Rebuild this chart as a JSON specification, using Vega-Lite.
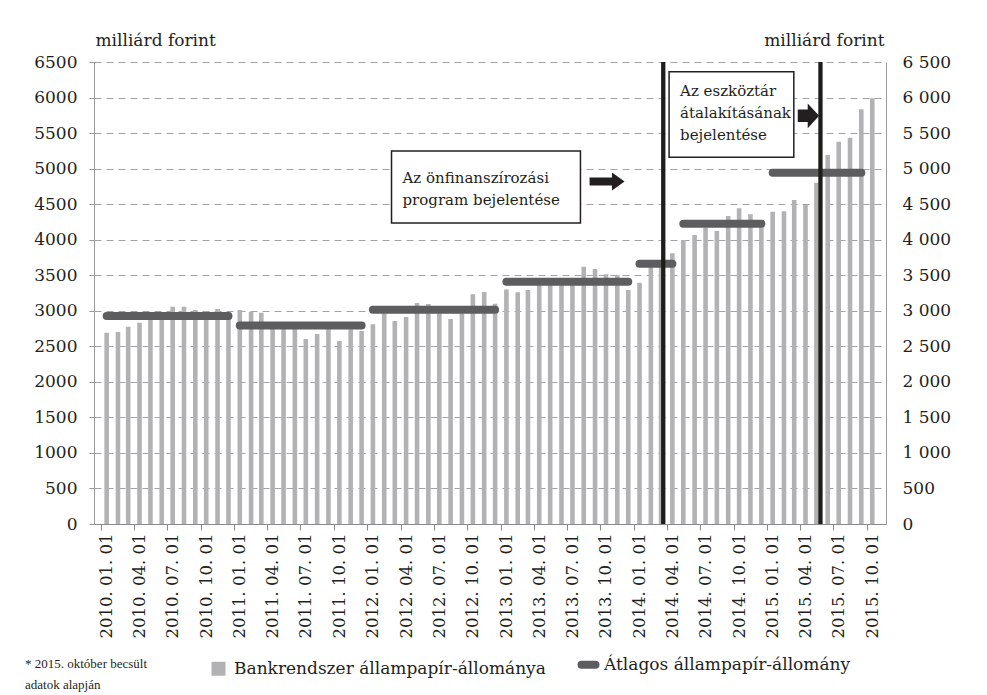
{
  "$schema": "https://vega.github.io/schema/vega-lite/v6.json",
  "width": 792,
  "height": 462,
  "autosize": {"type": "none"},
  "padding": {"left": 94, "top": 62, "right": 101, "bottom": 171},
  "background": "white",
  "config": {"view": {"stroke": null}, "font": "DejaVu Serif"},
  "datasets": {
    "bars": [
      {"date": "2010-01-01", "value": 2692}, {"date": "2010-02-01", "value": 2701}, {"date": "2010-03-01", "value": 2776}, {"date": "2010-04-01", "value": 2832}, {"date": "2010-05-01", "value": 2900}, {"date": "2010-06-01", "value": 2960},
      {"date": "2010-07-01", "value": 3057}, {"date": "2010-08-01", "value": 3057}, {"date": "2010-09-01", "value": 3011}, {"date": "2010-10-01", "value": 2990}, {"date": "2010-11-01", "value": 3025}, {"date": "2010-12-01", "value": 2980},
      {"date": "2011-01-01", "value": 3011}, {"date": "2011-02-01", "value": 2987}, {"date": "2011-03-01", "value": 2973}, {"date": "2011-04-01", "value": 2820}, {"date": "2011-05-01", "value": 2830}, {"date": "2011-06-01", "value": 2800},
      {"date": "2011-07-01", "value": 2603}, {"date": "2011-08-01", "value": 2673}, {"date": "2011-09-01", "value": 2760}, {"date": "2011-10-01", "value": 2575}, {"date": "2011-11-01", "value": 2740}, {"date": "2011-12-01", "value": 2715},
      {"date": "2012-01-01", "value": 2809}, {"date": "2012-02-01", "value": 2964}, {"date": "2012-03-01", "value": 2856}, {"date": "2012-04-01", "value": 2912}, {"date": "2012-05-01", "value": 3109}, {"date": "2012-06-01", "value": 3095},
      {"date": "2012-07-01", "value": 3000}, {"date": "2012-08-01", "value": 2884}, {"date": "2012-09-01", "value": 2964}, {"date": "2012-10-01", "value": 3231}, {"date": "2012-11-01", "value": 3264}, {"date": "2012-12-01", "value": 3099},
      {"date": "2013-01-01", "value": 3301}, {"date": "2013-02-01", "value": 3259}, {"date": "2013-03-01", "value": 3292}, {"date": "2013-04-01", "value": 3380}, {"date": "2013-05-01", "value": 3400}, {"date": "2013-06-01", "value": 3390},
      {"date": "2013-07-01", "value": 3420}, {"date": "2013-08-01", "value": 3620}, {"date": "2013-09-01", "value": 3588}, {"date": "2013-10-01", "value": 3513}, {"date": "2013-11-01", "value": 3500}, {"date": "2013-12-01", "value": 3292},
      {"date": "2014-01-01", "value": 3395}, {"date": "2014-02-01", "value": 3690}, {"date": "2014-03-01", "value": 3710}, {"date": "2014-04-01", "value": 3808}, {"date": "2014-05-01", "value": 3995}, {"date": "2014-06-01", "value": 4066},
      {"date": "2014-07-01", "value": 4169}, {"date": "2014-08-01", "value": 4122}, {"date": "2014-09-01", "value": 4333}, {"date": "2014-10-01", "value": 4441}, {"date": "2014-11-01", "value": 4357}, {"date": "2014-12-01", "value": 4190},
      {"date": "2015-01-01", "value": 4394}, {"date": "2015-02-01", "value": 4399}, {"date": "2015-03-01", "value": 4558}, {"date": "2015-04-01", "value": 4488}, {"date": "2015-05-01", "value": 4802}, {"date": "2015-06-01", "value": 5191},
      {"date": "2015-07-01", "value": 5379}, {"date": "2015-08-01", "value": 5435}, {"date": "2015-09-01", "value": 5834}, {"date": "2015-10-01", "value": 5989}
    ],
    "avgs": [
      {"date": "2010-01-01", "end": "2010-12-01", "avg": 2926},
      {"date": "2011-01-01", "end": "2011-12-01", "avg": 2793},
      {"date": "2012-01-01", "end": "2012-12-01", "avg": 3015},
      {"date": "2013-01-01", "end": "2013-12-01", "avg": 3407},
      {"date": "2014-01-01", "end": "2014-04-01", "avg": 3662},
      {"date": "2014-05-01", "end": "2014-12-01", "avg": 4225},
      {"date": "2015-01-01", "end": "2015-09-01", "avg": 4943}
    ],
    "events": [{"date": "2014-03-07"}, {"date": "2015-05-12"}],
    "boxes": [
      {"date": "2012-02-21", "end": "2013-07-23", "y1": 5248, "y2": 4235, "ty": 4868, "label": "Az önfinanszírozási\nprogram bejelentése"},
      {"date": "2014-03-23", "end": "2015-02-28", "y1": 6363, "y2": 5159, "ty": 6090, "label": "Az eszköztár\nátalakításának\nbejelentése"}
    ],
    "arrows": [
      {"date": "2013-10-04", "value": 4819, "kind": "a"},
      {"date": "2015-04-09", "value": 5743, "kind": "b"}
    ]
  },
  "encoding": {
    "x": {
      "field": "date", "type": "temporal", "title": null,
      "scale": {"type": "utc", "domain": [{"year": 2009, "month": 12, "date": 11, "utc": true}, {"year": 2015, "month": 10, "date": 25, "utc": true}]},
      "axis": {
        "values": [
          {"year": 2010, "month": 1, "date": 1, "utc": true}, {"year": 2010, "month": 4, "date": 1, "utc": true}, {"year": 2010, "month": 7, "date": 1, "utc": true}, {"year": 2010, "month": 10, "date": 1, "utc": true},
          {"year": 2011, "month": 1, "date": 1, "utc": true}, {"year": 2011, "month": 4, "date": 1, "utc": true}, {"year": 2011, "month": 7, "date": 1, "utc": true}, {"year": 2011, "month": 10, "date": 1, "utc": true},
          {"year": 2012, "month": 1, "date": 1, "utc": true}, {"year": 2012, "month": 4, "date": 1, "utc": true}, {"year": 2012, "month": 7, "date": 1, "utc": true}, {"year": 2012, "month": 10, "date": 1, "utc": true},
          {"year": 2013, "month": 1, "date": 1, "utc": true}, {"year": 2013, "month": 4, "date": 1, "utc": true}, {"year": 2013, "month": 7, "date": 1, "utc": true}, {"year": 2013, "month": 10, "date": 1, "utc": true},
          {"year": 2014, "month": 1, "date": 1, "utc": true}, {"year": 2014, "month": 4, "date": 1, "utc": true}, {"year": 2014, "month": 7, "date": 1, "utc": true}, {"year": 2014, "month": 10, "date": 1, "utc": true},
          {"year": 2015, "month": 1, "date": 1, "utc": true}, {"year": 2015, "month": 4, "date": 1, "utc": true}, {"year": 2015, "month": 7, "date": 1, "utc": true}, {"year": 2015, "month": 10, "date": 1, "utc": true}
        ],
        "labelExpr": "utcFormat(datum.value, '%Y. %m. %d')",
        "labelAngle": 270, "labelAlign": "right", "labelBaseline": "middle",
        "labelFont": "DejaVu Serif", "labelFontSize": 16.5, "labelColor": "#231f20",
        "labelPadding": 3, "labelOverlap": false, "labelFlush": false, "labelBound": false,
        "tickSize": 6, "tickColor": "#8a8a8a", "tickOffset": -5.6, "labelOffset": 5.6,
        "domainColor": "#8a8a8a", "grid": false, "title": null
      }
    }
  },
  "resolve": {"scale": {"y": "independent"}},
  "layer": [
    {
      "data": {"name": "bars"},
      "mark": {"type": "bar", "width": 4.6},
      "encoding": {
        "y": {
          "field": "value", "type": "quantitative", "title": "milliárd forint",
          "scale": {"domain": [0, 6500], "nice": false},
          "axis": {
            "values": [0, 500, 1000, 1500, 2000, 2500, 3000, 3500, 4000, 4500, 5000, 5500, 6000, 6500],
            "format": "d",
            "titleAngle": 0, "titleAlign": "left", "titleBaseline": "alphabetic", "titleX": 1, "titleY": -17,
            "titleFont": "DejaVu Serif", "titleFontSize": 17, "titleFontWeight": "normal", "titleColor": "#231f20",
            "labelFont": "DejaVu Serif", "labelFontSize": 17, "labelColor": "#231f20", "labelPadding": 12,
            "tickSize": 5, "tickColor": "#9a9a9a", "domainColor": "#9a9a9a",
            "grid": true, "gridColor": "#a3a3a3", "gridDash": [7, 5], "gridWidth": 1
          }
        },
        "color": {
          "datum": "Bankrendszer állampapír-állománya", "type": "nominal",
          "scale": {"domain": ["Bankrendszer állampapír-állománya", "Átlagos állampapír-állomány"], "range": ["#b2b2b4", "#5d5d5f"]},
          "legend": {
            "orient": "none", "legendX": -69, "legendY": 594, "direction": "horizontal", "padding": 0,
            "title": ["* 2015. október becsült", "adatok alapján"],
            "titleOrient": "left", "titleFont": "Liberation Serif", "titleFontSize": 13, "titleFontWeight": "normal",
            "titleColor": "#231f20", "titlePadding": 62, "titleLineHeight": 21, "titleBaseline": "top", "titleAlign": "left",
            "labelFont": "DejaVu Serif", "labelFontSize": 17, "labelColor": "#231f20", "labelLimit": 400, "labelOffset": 7,
            "symbolSize": 196, "symbolType": "square", "columnPadding": 19,
            "encode": {
              "symbols": {
                "update": {
                  "shape": {"signal": "datum.value === 'Átlagos állampapír-állomány' ? 'stroke' : 'square'"},
                  "fill": {"signal": "datum.value === 'Átlagos állampapír-állomány' ? 'transparent' : '#b2b2b4'"},
                  "stroke": {"signal": "datum.value === 'Átlagos állampapír-állomány' ? '#5d5d5f' : 'transparent'"},
                  "strokeWidth": {"signal": "datum.value === 'Átlagos állampapír-állomány' ? 8 : 0"},
                  "strokeCap": {"value": "round"},
                  "opacity": {"value": 1}
                }
              }
            }
          }
        }
      }
    },
    {
      "data": {"name": "avgs"},
      "mark": {"type": "rule", "strokeWidth": 8, "strokeCap": "round"},
      "encoding": {
        "x2": {"field": "end"},
        "y": {
          "field": "avg", "type": "quantitative", "title": "milliárd forint",
          "scale": {"domain": [0, 6500], "nice": false},
          "axis": {
            "orient": "right",
            "values": [0, 500, 1000, 1500, 2000, 2500, 3000, 3500, 4000, 4500, 5000, 5500, 6000, 6500],
            "labelExpr": "replace(format(datum.value, ','), ',', ' ')",
            "titleAngle": 0, "titleAlign": "right", "titleBaseline": "alphabetic", "titleX": -2, "titleY": -17,
            "titleFont": "DejaVu Serif", "titleFontSize": 17, "titleFontWeight": "normal", "titleColor": "#231f20",
            "labelFont": "DejaVu Serif", "labelFontSize": 17, "labelColor": "#231f20", "labelPadding": 16,
            "ticks": false, "domainColor": "#9a9a9a", "grid": false
          }
        },
        "color": {"datum": "Átlagos állampapír-állomány", "type": "nominal"}
      }
    },
    {
      "data": {"name": "events"},
      "mark": {"type": "rule", "strokeWidth": 4.3, "color": "#1d1d1b"},
      "encoding": {}
    },
    {
      "data": {"name": "boxes"},
      "mark": {"type": "rect", "fill": "white", "stroke": "#231f20", "strokeWidth": 1.5},
      "encoding": {
        "x2": {"field": "end"},
        "y": {"field": "y1", "type": "quantitative", "axis": null, "scale": {"domain": [0, 6500], "nice": false}},
        "y2": {"field": "y2"}
      }
    },
    {
      "data": {"name": "boxes"},
      "mark": {"type": "text", "align": "left", "baseline": "middle", "dx": 11, "lineBreak": "\n", "lineHeight": 22, "font": "DejaVu Serif", "fontSize": 15, "color": "#231f20"},
      "encoding": {
        "y": {"field": "ty", "type": "quantitative", "axis": null, "scale": {"domain": [0, 6500], "nice": false}},
        "text": {"field": "label"}
      }
    },
    {
      "data": {"name": "arrows"},
      "mark": {"type": "point", "filled": true, "size": 1225, "color": "#231f20", "opacity": 1},
      "encoding": {
        "y": {"field": "value", "type": "quantitative", "axis": null, "scale": {"domain": [0, 6500], "nice": false}},
        "shape": {"field": "kind", "type": "nominal", "legend": null,
          "scale": {"domain": ["a", "b"], "range": ["M-1,-0.23 L0.28,-0.23 L0.28,-0.51 L1,0 L0.28,0.51 L0.28,0.23 L-1,0.23 Z", "M-0.61,-0.36 L-0.04,-0.36 L-0.04,-0.71 L0.61,0 L-0.04,0.71 L-0.04,0.36 L-0.61,0.36 Z"]}}
      }
    }
  ]
}
